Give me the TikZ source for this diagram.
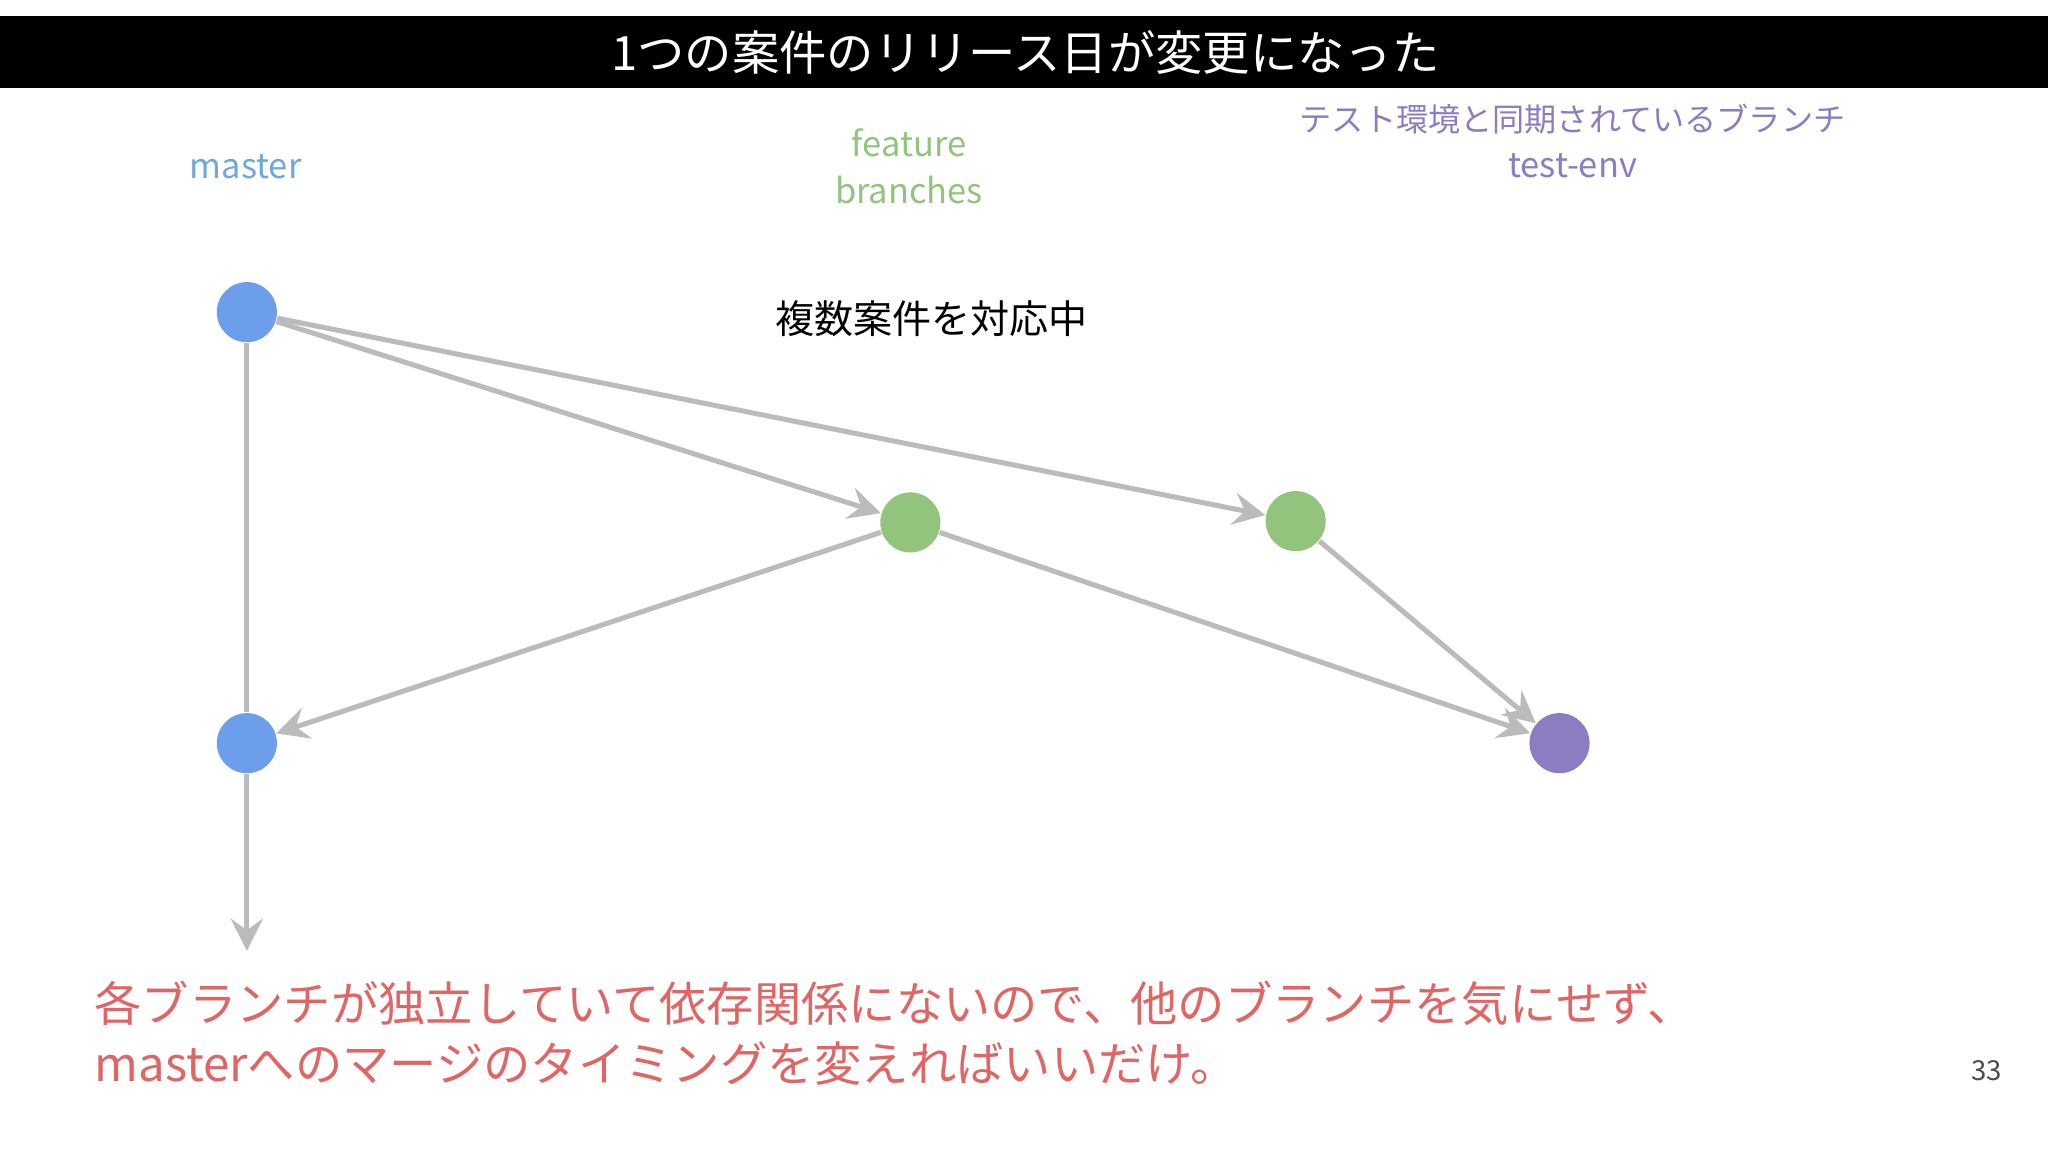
\documentclass[tikz,border=0pt]{standalone}
\usepackage{fontspec}
\setmainfont{Noto Sans CJK JP}
\usetikzlibrary{arrows.meta}
\definecolor{mblue}{HTML}{6D9EEB}
\definecolor{fgreen}{HTML}{93C47D}
\definecolor{tpurple}{HTML}{8E7CC3}
\definecolor{lgray}{HTML}{BBBBBB}
\definecolor{lblue}{HTML}{6FA8DC}
\definecolor{tred}{HTML}{E06666}
\begin{document}
\begin{tikzpicture}[x=0.01cm,y=-0.01cm,
  dot/.style={circle,minimum size=0.46cm,inner sep=0pt},
  conn/.style={draw=lgray,line width=1.1pt,-{Stealth[length=7pt,width=7pt,inset=2.5pt]}},
  lbl/.style={font=\fontsize{7.5}{10.2}\selectfont,align=center}]
\useasboundingbox (0,0) rectangle (1568,882);
\fill[white] (0,0) rectangle (1568,882);
\fill[black] (0,12) rectangle (1568,67);
\node[text=white,font=\fontsize{10.3}{12}\selectfont] (title) at (785,40) {1つの案件のリリース日が変更になった};
\node[lbl,text=lblue] (lm) at (188,128) {master};
\node[lbl,text=fgreen] (lf) at (696,127) {feature\\branches};
\node[lbl,text=tpurple,font=\fontsize{7}{9}\selectfont] (lt1) at (1204,91) {テスト環境と同期されているブランチ};
\node[lbl,text=tpurple] (lt2) at (1204,127) {test-env};
\node[font=\fontsize{8.5}{10}\selectfont] (multi) at (713,244) {複数案件を対応中};
\node[dot,fill=mblue] (m1) at (189,239) {};
\node[dot,fill=mblue] (m2) at (189,569) {};
\node[dot,fill=fgreen] (f1) at (697,400) {};
\node[dot,fill=fgreen] (f2) at (992,399) {};
\node[dot,fill=tpurple] (t) at (1194,569) {};
\coordinate (end) at (189,728);
\draw[draw=lgray,line width=1.1pt] (m1) -- (m2);
\draw[conn] (m1) -- (f1);
\draw[conn] (m1) -- (f2);
\draw[conn] (f1) -- (m2);
\draw[conn] (f1) -- (t);
\draw[conn] (f2) -- (t);
\draw[conn] (m2) -- (end);
\node[anchor=west,text=tred,font=\fontsize{10.3}{13}\selectfont,align=left] (note) at (60,791) {各ブランチが独立していて依存関係にないので、他のブランチを気にせず、\\masterへのマージのタイミングを変えればいいだけ。};
\node[font=\fontsize{6}{7}\selectfont,text=black!70] (pg) at (1521,820) {33};
\end{tikzpicture}
\end{document}
